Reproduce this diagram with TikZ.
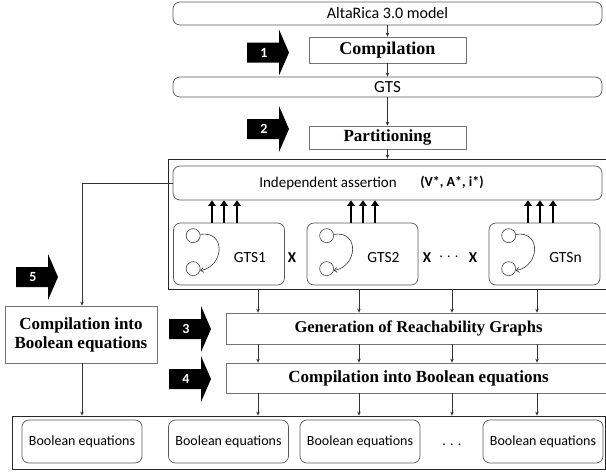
\documentclass[tikz,border=0pt]{standalone}
\usepackage{fontspec}
\setmainfont{Carlito}
\newfontfamily\cambria{Liberation Serif}
\usetikzlibrary{arrows.meta}
\tikzset{
  rbox/.style={draw=black!65, rounded corners=7pt, inner sep=0pt, line width=0.7pt},
  sbox/.style={draw=black!55, inner sep=0pt, line width=0.7pt, fill=white},
  frame/.style={draw=black!85, inner sep=0pt, line width=0.8pt},
  conn/.style={draw=black!80, line width=0.6pt, -{Stealth[length=4pt,width=3.5pt]}},
  fatarrow/.style={line width=2.2pt, -{Triangle[length=5.5pt,width=7.5pt]}},
  camb/.style={font=\cambria\bfseries\fontsize{17}{19}\selectfont},
  numlbl/.style={text=white, font=\bfseries\fontsize{14}{16}\selectfont, inner sep=0pt},
  xlbl/.style={font=\bfseries\fontsize{15}{16}\selectfont, inner sep=0pt},
  statecirc/.style={circle, draw=black!75, line width=0.6pt, minimum size=14, inner sep=0pt},
}
\begin{document}
\begin{tikzpicture}[x=1pt,y=-1pt]
\useasboundingbox (0,0) rectangle (606,474);
\clip (0,0) rectangle (606,474);
% containers
\node[frame, minimum width=439, minimum height=130] (cont) at (387.5,224) {};
\node[frame, minimum width=593, minimum height=53] (bot) at (308.5,442.5) {};
% top chain
\node[rbox, minimum width=429, minimum height=23, font=\fontsize{16}{16}\selectfont] (alta) at (387.5,13.5) {AltaRica 3.0 model};
\node[sbox, minimum width=157, minimum height=26, font=\cambria\bfseries\fontsize{18}{19}\selectfont] (comp1) at (387.5,50) {Compilation};
\node[rbox, minimum width=429, minimum height=20, font=\fontsize{17}{16}\selectfont] (gts) at (387.5,87) {GTS};
\node[sbox, minimum width=157, minimum height=23, camb] (part) at (387.5,137.5) {Partitioning};
\draw[conn] (alta) -- (comp1);
\draw[conn] (comp1) -- (gts);
\draw[conn] (gts) -- (part);
\draw[conn] (part) -- (cont.north -| part);
% independent assertion
\node[rbox, minimum width=429, minimum height=34] (assert) at (387.5,183) {};
\node[font=\fontsize{15}{16}\selectfont, inner sep=0pt] (indep) at (328,183) {Independent assertion};
\node[font=\bfseries\fontsize{14}{16}\selectfont, inner sep=0pt] (vai) at (452,182) {(V*, A*, i*)};
% GTS boxes
\foreach \n/\cx/\lab in {gtsa/229/GTS1, gtsb/362.5/GTS2, gtsc/544.5/GTSn}{
  \node[rbox, minimum width=111, minimum height=62] (\n) at (\cx,254) {};
  \node[font=\fontsize{15.5}{16}\selectfont, inner sep=0pt] (\n-l) at ([xshift=21pt,yshift=-4pt]\n.center) {\lab};
  \node[statecirc] (\n-c1) at ([xshift=20pt,yshift=-13pt]\n.north west) {};
  \node[statecirc] (\n-c2) at ([xshift=20pt,yshift=-46pt]\n.north west) {};
  \draw[black!80, line width=0.6pt, -{Straight Barb[length=3pt,width=5pt]}] (\n-c1.10) .. controls +(26,-4) and +(24,-4) .. (\n-c2.-15);
}
% fat arrows
\foreach \x in {212,224,237,351,363,375,528,540,553}{
  \coordinate (fa\x) at (\x,0);
  \draw[fatarrow] (gtsa.north -| fa\x) -- (assert.south -| fa\x);
}
\node[xlbl] (x1) at (292,258) {X};
\node[xlbl] (x2) at (427,258) {X};
\node[xlbl] (x3) at (473,258) {X};
\node[font=\fontsize{14}{16}\selectfont, inner sep=0pt] (dd1) at (449,257) {. . .};
% generation & compilation
\node[sbox, minimum width=381, minimum height=31] (gen) at (416.5,328.5) {};
\node[font=\cambria\bfseries\fontsize{16.5}{19}\selectfont, inner sep=0pt] (genl) at (418.5,328.5) {Generation of Reachability Graphs};
\node[sbox, minimum width=381, minimum height=30] (comp2) at (416.5,378) {};
\node[camb, inner sep=0pt] (comp2l) at (418.5,378) {Compilation into Boolean equations};
\foreach \x in {258,359,452,537}{
  \coordinate (v\x) at (\x,0);
  \draw[conn] (cont.south -| v\x) -- (gen.north -| v\x);
  \draw[conn] (gen.south -| v\x) -- (comp2.north -| v\x);
  \draw[conn] (comp2.south -| v\x) -- (bot.north -| v\x);
}
% left box
\node[sbox, minimum width=152, minimum height=57, camb, align=center] (left) at (81,334.5) {Compilation into\\Boolean equations};
\coordinate (lc) at (82,183);
\draw[conn] (assert.west) -- (lc) -- (left.north -| lc);
\draw[conn] (left.south -| lc) -- (bot.north -| lc);
% boolean equation boxes
\foreach \n/\cx in {be1/82, be2/228.5, be3/360, be4/543}{
  \node[rbox, minimum width=120, minimum height=43, font=\fontsize{14}{16}\selectfont] (\n) at (\cx,441.5) {Boolean equations};
}
\node[font=\fontsize{14}{16}\selectfont, inner sep=0pt] (dd2) at (452,445) {. . .};
% black step arrows
\foreach \n/\bx/\cy/\num in {s1/247/52.5/1, s2/247/129/2, s3/169/329/3, s4/169/379/4, s5/16/277/5}{
  \fill[black] (\bx,\cy-10) -- (\bx+32,\cy-10) -- (\bx+32,\cy-23) -- (\bx+42,\cy) -- (\bx+32,\cy+23) -- (\bx+32,\cy+10) -- (\bx,\cy+10) -- cycle;
  \node[numlbl] (\n) at (\bx+17,\cy) {\num};
}
\end{tikzpicture}
\end{document}
